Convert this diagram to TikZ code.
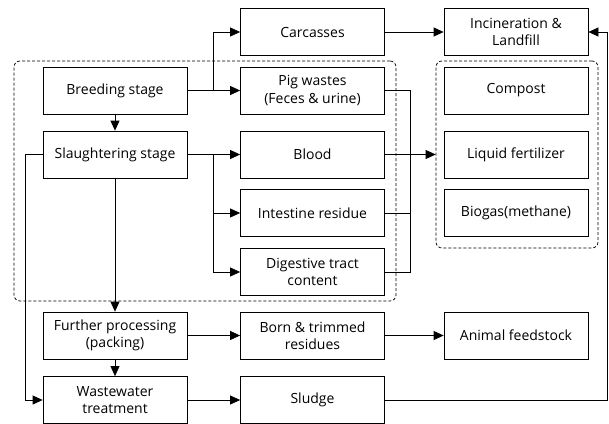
\documentclass[tikz,border=0pt]{standalone}
\usepackage{fontspec}
\setmainfont{Open Sans}
\usetikzlibrary{arrows.meta,positioning,calc}
\tikzset{every picture/.style={line width=0.75pt}}

\begin{document}
\begin{tikzpicture}[x=1pt,y=-1pt,
    box/.style={draw, minimum width=144pt, minimum height=47pt, inner sep=1pt,
        align=center, font=\fontsize{14}{17.5}\selectfont},
    grp/.style={draw, dash pattern=on 3pt off 2pt, rounded corners=6pt, inner sep=0pt},
    arr/.style={-{Triangle[length=10pt,width=9pt]}}]
    \useasboundingbox (0,0) rectangle (609,423);
    % groups
    \node[grp, minimum width=382pt, minimum height=240pt] (farm) at (205,181) {};
    \node[grp, minimum width=162pt, minimum height=187pt] (fert) at (517,154.5) {};
    % left column
    \node[box] (breed) at (115,90.5) {Breeding stage};
    \node[box] (slau) at (115,154.5) {Slaughtering stage};
    \node[box] (further) at (115,335.5) {Further processing\\(packing)};
    \node[box] (waste) at (115,400) {Wastewater\\treatment};
    % middle column
    \node[box] (carc) at (312.5,32) {Carcasses};
    \node[box] (pig) at (312.5,90.5) {Pig wastes\\(Feces \& urine)};
    \node[box] (blood) at (312.5,154.5) {Blood};
    \node[box] (intest) at (312.5,213) {Intestine residue};
    \node[box] (digest) at (312.5,272) {Digestive tract\\content};
    \node[box] (born) at (312.5,335.5) {Born \& trimmed\\residues};
    \node[box] (sludge) at (312.5,400) {Sludge};
    % right column
    \node[box] (incin) at (516,32) {Incineration \&\\Landfill};
    \node[box] (compost) at (516,90.5) {Compost};
    \node[box] (liquid) at (516,154.5) {Liquid fertilizer};
    \node[box] (biogas) at (516,213) {Biogas(methane)};
    \node[box] (feed) at (516,335.5) {Animal feedstock};
    % junctions
    \coordinate (j1) at ($(breed.east)!0.5!(pig.west)$);
    \coordinate (j2) at ($(slau.east)!0.5!(blood.west)$);
    \coordinate (bus) at (410,0);
    \coordinate (rt) at (607,400);
    % connectors
    \draw[arr] (breed.east) -- (pig.west);
    \draw[arr] (j1) |- (carc.west);
    \draw[arr] (breed.south) -- (slau.north);
    \draw[arr] (slau.east) -- (blood.west);
    \draw[arr] (j2) |- (intest.west);
    \draw[arr] (j2) |- (digest.west);
    \draw[arr] (slau.south) -- (further.north);
    \draw[arr] (slau.west) -- ++(-17,0) |- (waste.west);
    \draw[arr] (further.south) -- (waste.north);
    \draw[arr] (further.east) -- (born.west);
    \draw[arr] (born.east) -- (feed.west);
    \draw[arr] (waste.east) -- (sludge.west);
    \draw[arr] (carc.east) -- (incin.west);
    \draw[arr] (sludge.east) -- (rt) |- (incin.east);
    \draw (pig.east) -| (bus |- digest.east) -- (digest.east);
    \draw (intest.east) -- (bus |- intest.east);
    \draw[arr] (blood.east) -- (fert.west);
\end{tikzpicture}
\end{document}
